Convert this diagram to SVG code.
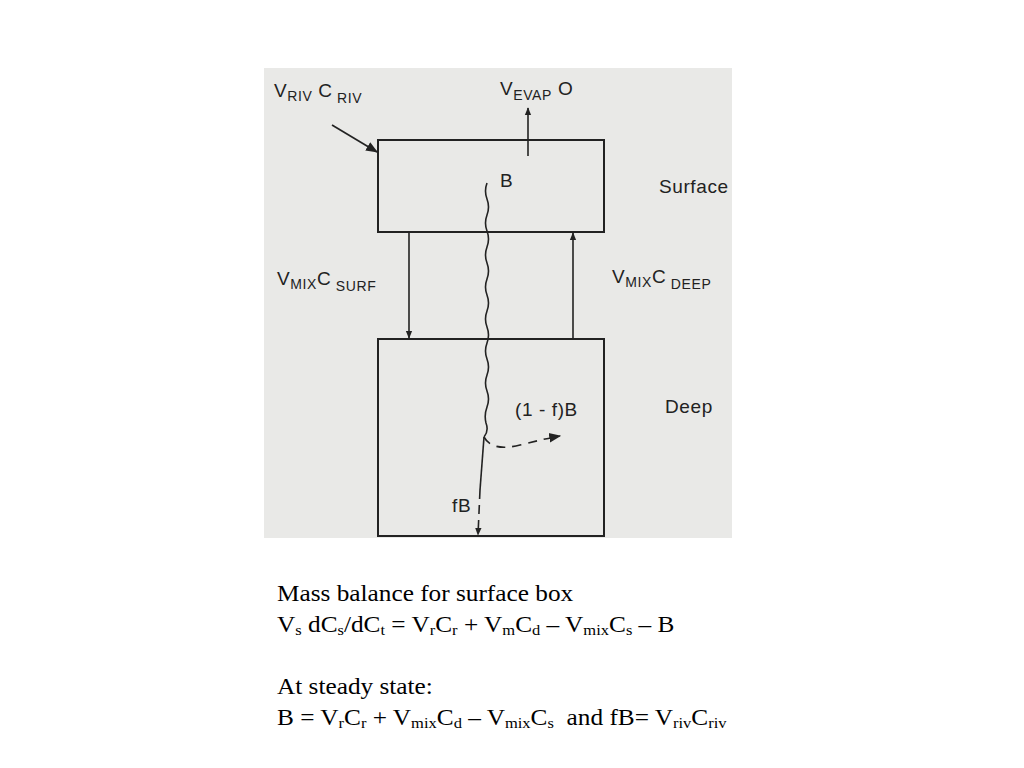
<svg xmlns="http://www.w3.org/2000/svg" width="1024" height="768" viewBox="0 0 1024 768">
<style>
.lbl{font-family:"Liberation Sans",Arial,sans-serif;font-size:19px;fill:#222;letter-spacing:0.6px}
.sub{font-size:14px}
.eq{font-family:"Liberation Serif","Times New Roman",serif;font-size:23px;fill:#000}
.es{font-size:15px}
.box{fill:none;stroke:#222;stroke-width:2}
.ln{fill:none;stroke:#222;stroke-width:1.6}
</style>
<defs>
<marker id="ah" viewBox="0 0 10 10" refX="9" refY="5" markerWidth="8" markerHeight="8" orient="auto" markerUnits="userSpaceOnUse">
<path d="M0,1 L10,5 L0,9 z" fill="#222"/>
</marker>
<marker id="ahb" viewBox="0 0 10 10" refX="9" refY="5" markerWidth="12" markerHeight="12" orient="auto" markerUnits="userSpaceOnUse">
<path d="M0,1 L10,5 L0,9 z" fill="#222"/>
</marker>
</defs>
<rect x="264" y="68" width="468" height="470" fill="#e9e9e7"/>
<g id="surface">
<rect class="box" x="378" y="140" width="226" height="92"/>
<text class="lbl" x="659" y="193">Surface</text>
</g>
<g id="deep">
<rect class="box" x="378" y="339" width="226" height="197"/>
<text class="lbl" x="665" y="413">Deep</text>
</g>
<g id="connectors">
<line class="ln" x1="332" y1="125" x2="377" y2="152" stroke-width="2.2" marker-end="url(#ahb)"/>
<line class="ln" x1="528" y1="156" x2="528" y2="108" marker-end="url(#ah)"/>
<line class="ln" x1="409" y1="232" x2="409" y2="338" marker-end="url(#ah)"/>
<line class="ln" x1="573" y1="339" x2="573" y2="233" marker-end="url(#ah)"/>
<path class="ln" d="M487,183 q-3,8 0,16 q3,8 0,16 q-3,8 0,16 q3,8 0,16 q-3,8 0,16 q3,8 0,16 q-3,8 0,16 q3,8 0,16 q-3,8 0,16 q3,8 0,16 q-3,8 0,16 q3,8 0,16 q-3,8 0,16 q3,8 0,16 q-3,8 -1,16 q3,8 -2,14"/>
<path class="ln" d="M484,437 L480,490"/>
<path class="ln" d="M480,490 L478,535" stroke-dasharray="9,6" marker-end="url(#ah)"/>
<path class="ln" d="M484,437 Q492,452 520,445 T560,436" stroke-dasharray="9,7" marker-end="url(#ahb)"/>
</g>
<g id="labels">
<text class="lbl" x="274" y="97">V<tspan class="sub" dy="4">RIV</tspan><tspan dy="-4"> C</tspan><tspan class="sub" dy="6">  RIV</tspan></text>
<text class="lbl" x="500" y="95">V<tspan class="sub" dy="5">EVAP</tspan><tspan dy="-5"> O</tspan></text>
<text class="lbl" x="500" y="187">B</text>
<text class="lbl" x="277" y="285">V<tspan class="sub" dy="4">MIX</tspan><tspan dy="-4">C</tspan><tspan class="sub" dy="6">  SURF</tspan></text>
<text class="lbl" x="612" y="283">V<tspan class="sub" dy="4">MIX</tspan><tspan dy="-4">C</tspan><tspan class="sub" dy="6">  DEEP</tspan></text>
<text class="lbl" x="515" y="416" font-size="17">(1 - f)B</text>
<text class="lbl" x="452" y="512" font-size="17">fB</text>
</g>
<g id="equations" transform="translate(277,0) scale(1.1,1) translate(-277,0)">
<text class="eq" x="277" y="601">Mass balance for surface box</text>
<text class="eq" x="277" y="632">V<tspan class="es" dy="3">s</tspan><tspan dy="-3"> dC</tspan><tspan class="es" dy="3">s</tspan><tspan dy="-3">/dC</tspan><tspan class="es" dy="3">t</tspan><tspan dy="-3"> = V</tspan><tspan class="es" dy="3">r</tspan><tspan dy="-3">C</tspan><tspan class="es" dy="3">r</tspan><tspan dy="-3"> + V</tspan><tspan class="es" dy="3">m</tspan><tspan dy="-3">C</tspan><tspan class="es" dy="3">d</tspan><tspan dy="-3"> – V</tspan><tspan class="es" dy="3">mix</tspan><tspan dy="-3">C</tspan><tspan class="es" dy="3">s</tspan><tspan dy="-3"> – B</tspan></text>
<text class="eq" x="277" y="694">At steady state:</text>
<text class="eq" x="277" y="725">B = V<tspan class="es" dy="3">r</tspan><tspan dy="-3">C</tspan><tspan class="es" dy="3">r</tspan><tspan dy="-3"> + V</tspan><tspan class="es" dy="3">mix</tspan><tspan dy="-3">C</tspan><tspan class="es" dy="3">d</tspan><tspan dy="-3"> – V</tspan><tspan class="es" dy="3">mix</tspan><tspan dy="-3">C</tspan><tspan class="es" dy="3">s</tspan><tspan dy="-3" xml:space="preserve">  and fB= V</tspan><tspan class="es" dy="3">riv</tspan><tspan dy="-3">C</tspan><tspan class="es" dy="3">riv</tspan></text>
</g>
</svg>
